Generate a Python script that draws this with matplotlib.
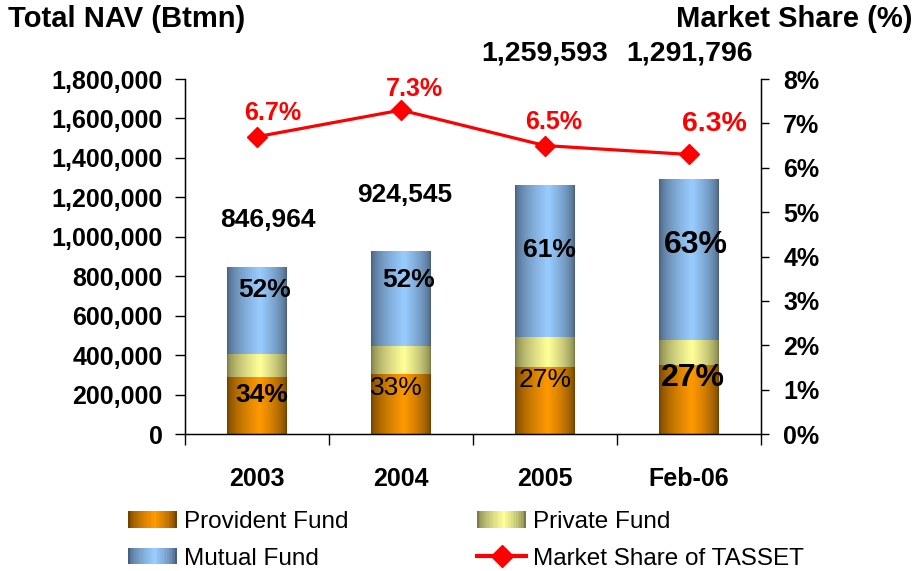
import numpy as np
import matplotlib
matplotlib.use('Agg')
import matplotlib.pyplot as plt
from matplotlib.patches import Rectangle
from matplotlib.lines import Line2D
from matplotlib.legend_handler import HandlerBase
from matplotlib.colors import to_rgb
from matplotlib.ticker import FuncFormatter

years = ['2003', '2004', '2005', 'Feb-06']
provident = [288000, 305000, 340000, 349000]
private = [119000, 139000, 151000, 129000]
mutual = [439964, 480545, 768593, 813796]
totals = ['846,964', '924,545', '1,259,593', '1,291,796']
mf_share = ['52%', '52%', '61%', '63%']
pf_share = ['34%', '33%', '27%', '27%']
tasset = [6.7, 7.3, 6.5, 6.3]

plt.rcParams['font.family'] = ['Liberation Sans', 'DejaVu Sans']
plt.rcParams['font.weight'] = 'bold'

# light / dark ends of the cylinder-like fills
pf_col = ('#FF9900', '#6E4200')
pv_col = ('#FFFF99', '#7A7A48')
mf_col = ('#99CCFF', '#48607C')


def shade(light, dark, n=64):
    t = np.linspace(0, 1, n)
    w = np.where(t < 0.55, t / 0.55, (1 - t) / 0.45) ** 0.6
    lo, hi = np.array(to_rgb(dark)), np.array(to_rgb(light))
    return lo + (hi - lo) * w[:, None]


class GradHandler(HandlerBase):
    def __init__(self, cols):
        super().__init__()
        self.cols = cols

    def create_artists(self, legend, orig_handle, xdescent, ydescent,
                       width, height, fontsize, trans):
        n = 30
        c = shade(*self.cols, n=n)
        out = []
        for i in range(n):
            out.append(Rectangle((-xdescent + i * width / n, -ydescent),
                                 width / n * 1.1, height, facecolor=c[i],
                                 lw=0, transform=trans))
        return out


fig = plt.figure(figsize=(9.18, 5.71), dpi=100)
ax = fig.add_axes([0.2015, 0.2399, 0.6275, 0.6217])
x = np.arange(len(years))
bw = 0.41

for i in range(len(years)):
    bottom = 0
    for val, cols in zip([provident[i], private[i], mutual[i]], [pf_col, pv_col, mf_col]):
        ax.imshow(shade(*cols)[None, :, :], extent=(i - bw / 2, i + bw / 2, bottom, bottom + val),
                  aspect='auto', interpolation='bilinear', zorder=2)
        bottom += val

ax.set_xlim(-0.5, 3.5)
ax.set_ylim(0, 1800000)
ax.set_yticks(np.arange(0, 1800001, 200000))
ax.yaxis.set_major_formatter(FuncFormatter(lambda v, p: '{:,.0f}'.format(v)))
ax.tick_params(axis='y', direction='out', length=7, width=1, labelsize=18, pad=9)
ax.set_xticks(x)
ax.set_xticklabels(years)
ax.set_xticks([-0.5, 0.5, 1.5, 2.5, 3.5], minor=True)
ax.tick_params(axis='x', which='major', length=0, labelsize=18, pad=24)
ax.tick_params(axis='x', which='minor', direction='out', length=8, width=1)
ax.spines['top'].set_visible(False)
for s in ['left', 'bottom', 'right']:
    ax.spines[s].set_linewidth(1)

# value labels
tot_pos = [(0.075, 1.085e6), (1.025, 1.212e6), (2.0, 1.93e6), (3.0, 1.93e6)]
tot_size = [19, 19, 20.5, 20.5]
for (tx, ty), lab, fs in zip(tot_pos, totals, tot_size):
    ax.text(tx, ty, lab, ha='center', va='center', fontsize=fs)

mf_pos = [(0.055, 730000), (1.05, 781000), (2.03, 933000), (3.05, 958000)]
pf_pos = [(0.035, 198000), (0.97, 233000), (2.0, 274000), (3.03, 284000)]
in_size = [19, 19, 19, 23]
pf_weight = ['bold', 'normal', 'normal', 'bold']
for i in range(len(years)):
    ax.text(*mf_pos[i], mf_share[i], ha='center', va='center', fontsize=in_size[i], zorder=4)
    ax.text(*pf_pos[i], pf_share[i], ha='center', va='center', fontsize=in_size[i],
            fontweight=pf_weight[i], zorder=4)

ax2 = ax.twinx()
ax2.set_ylim(0, 8)
ax2.set_yticks(np.arange(0, 9, 1))
ax2.yaxis.set_major_formatter(FuncFormatter(lambda v, p: '{:.0f}%'.format(v)))
ax2.tick_params(axis='y', direction='out', length=6, width=1, labelsize=18, pad=10)
ax2.spines['top'].set_visible(False)
ax2.plot(x, tasset, color='red', lw=2.3, marker='D', ms=10.5, zorder=5)

ms_off = [(11, 17), (10, 15), (6, 17), (18, 22)]
ms_size = [18, 18, 18, 20.5]
for i in range(len(years)):
    ax2.annotate('{:.1f}%'.format(tasset[i]), (x[i], tasset[i]), xytext=ms_off[i],
                 textcoords='offset points', ha='center', va='center',
                 color='red', fontsize=ms_size[i])

fig.text(8 / 918, 1 - 19 / 571, 'Total NAV (Btmn)', ha='left', va='center', fontsize=21)
fig.text(913 / 918, 1 - 19 / 571, 'Market Share (%)', ha='right', va='center', fontsize=21)

handles = [Rectangle((0, 0), 1, 1), Rectangle((0, 0), 1, 1), Rectangle((0, 0), 1, 1),
           Line2D([], [], color='red', lw=3, marker='D', ms=11)]
labels = ['Provident Fund', 'Mutual Fund', 'Private Fund', 'Market Share of TASSET']
fig.legend(handles, labels, loc='upper left', bbox_to_anchor=(128 / 918, 1 - 511 / 571),
           ncol=2, frameon=False, borderpad=0, borderaxespad=0,
           prop={'size': 17.5, 'weight': 'normal'}, handlelength=2.0, handleheight=0.65,
           handletextpad=0.3, columnspacing=5.3, labelspacing=0.6,
           handler_map={handles[0]: GradHandler(pf_col), handles[1]: GradHandler(mf_col),
                        handles[2]: GradHandler(pv_col)})

fig.savefig('out.png', dpi=100)
